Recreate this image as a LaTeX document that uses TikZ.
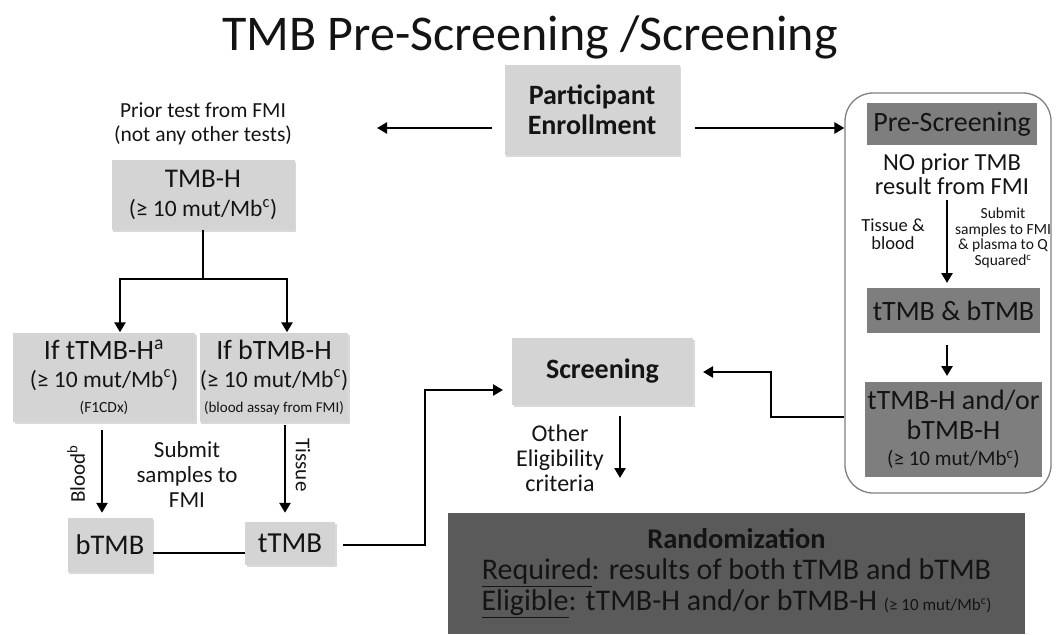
\documentclass[tikz,border=0pt]{standalone}
\usepackage{fontspec}
\setmainfont{Carlito}
\usetikzlibrary{arrows.meta,shadows}
\definecolor{lightbox}{HTML}{D4D4D4}
\definecolor{darkbox}{HTML}{7E7E7E}
\definecolor{randbox}{HTML}{5A5A5A}
\definecolor{txt}{HTML}{141414}
\definecolor{panelline}{HTML}{808080}
\newcommand\myfs[2]{\fontsize{#1}{#2}\selectfont}
\begin{document}
\begin{tikzpicture}[x=1pt,y=-1pt,
  lbox/.style={fill=lightbox, inner sep=0pt, align=center, text=txt,
    drop shadow={opacity=0.3,shadow xshift=1.5pt,shadow yshift=-2pt}},
  dbox/.style={fill=darkbox, inner sep=0pt, align=center, text=txt},
  lbl/.style={inner sep=0pt, align=center, text=txt},
  arr/.style={line width=2.6pt, -{Triangle[length=10pt,width=11pt]}},
  con/.style={line width=2.6pt},
]
\useasboundingbox (0,0) rectangle (1059,634);

% title
\node[lbl, font=\myfs{50}{54}] (title) at (530,37) {TMB Pre-Screening /Screening};

% top
\node[lbox, minimum width=175pt, minimum height=90pt, font=\myfs{28}{30}\bfseries] (enroll) at (592,110) {Participant\\Enrollment};
\node[lbl, font=\myfs{21.5}{24}] (prior) at (203,124) {Prior test from FMI\\(not any other tests)};

% right panel
\node[draw=panelline, line width=1.3pt, rounded corners=28pt, minimum width=206pt, minimum height=400pt, inner sep=0pt] (panel) at (948,293) {};
\node[dbox, minimum width=170pt, minimum height=42pt, font=\myfs{28}{30}] (pres) at (952,124) {Pre-Screening};
\node[lbl, font=\myfs{24.5}{24}] (noprior) at (952,174) {NO prior TMB\\result from FMI};
\node[lbl, font=\myfs{18.5}{18}] (tisblood) at (893,234) {Tissue \&\\blood};
\node[lbl, font=\myfs{15.5}{15.5}] (submitq) at (1003,238) {Submit\\samples to FMI\\\& plasma to Q\\Squared\textsuperscript{c}};
\node[dbox, minimum width=173pt, minimum height=45pt, font=\myfs{28}{30}] (tb) at (953.5,310.5) {tTMB \& bTMB};
\node[dbox, minimum width=177pt, minimum height=95pt, font=\myfs{28}{30}] (tbh) at (953.5,429.5) {tTMB-H and/or\\bTMB-H\\[-4pt]{\myfs{21}{24}(≥ 10 mut/Mb\textsuperscript{c})}};

% left tree
\node[lbox, minimum width=183pt, minimum height=70pt, font=\myfs{27}{29}] (tmbh) at (203,195) {TMB-H\\{\myfs{23.5}{26}(≥ 10 mut/Mb\textsuperscript{c})}};
\node[lbox, minimum width=182pt, minimum height=89pt, font=\myfs{28}{28}] (iftt) at (104,377) {If tTMB-H\textsuperscript{a}\\{\myfs{23.5}{27}(≥ 10 mut/Mb\textsuperscript{c})}\\[-3pt]{\myfs{15.5}{18}(F1CDx)}};
\node[lbox, minimum width=142pt, minimum height=89pt, font=\myfs{28}{28}] (ifbt) at (274,377) {If bTMB-H\\{\myfs{23.5}{27}(≥ 10 mut/Mb\textsuperscript{c})}\\[-3pt]{\myfs{15}{18}(blood assay from FMI)}};
\node[lbox, minimum width=85pt, minimum height=54pt, font=\myfs{28.5}{30}] (btmb) at (110,545) {bTMB};
\node[lbox, minimum width=90pt, minimum height=43pt, font=\myfs{29}{30}] (ttmb) at (290,543.5) {tTMB};
\node[lbl, font=\myfs{23}{25}] (submit) at (187,475) {Submit\\samples to\\FMI};
\node[lbl, font=\myfs{21}{24}, rotate=90] (blood) at (76,474) {Blood\textsuperscript{b}};
\node[lbl, font=\myfs{21}{24}, rotate=-90] (tissue) at (303,465) {Tissue};

% screening
\node[lbox, minimum width=181pt, minimum height=67pt, font=\myfs{28}{30}\bfseries] (screen) at (602.5,371.5) {Screening};
\node[lbl, font=\myfs{24}{25}] (other) at (560,458) {Other\\Eligibility\\criteria};

% randomization
\node[fill=randbox, minimum width=577pt, minimum height=121pt, inner sep=0pt, align=center, text=txt, font=\myfs{30}{31}] (rand) at (736.5,573.5)
  {{\myfs{28.5}{31}\bfseries Randomization}\\\underline{Required}: results of both tTMB and bTMB\\\underline{Eligible}: tTMB-H and/or bTMB-H {\myfs{17}{18}(≥ 10 mut/Mb\textsuperscript{c})}};

% connectors: enrollment
\coordinate (eL) at (492,128);
\coordinate (eLend) at (377,128);
\coordinate (eR) at (695,128);
\draw[arr] (eL) -- (eLend);
\draw[arr] (eR) -- (eR -| panel.west);

% tree
\coordinate (split) at (203,279);
\coordinate (sL) at (120,279);
\coordinate (sR) at (287,279);
\draw[con] (tmbh.south) -- (split);
\draw[con, line cap=rect] (sL) -- (sR);
\draw[arr] (sL) -- (sL |- iftt.north);
\draw[arr] (sR) -- (sR |- ifbt.north);
\coordinate (bS) at (102,430);
\coordinate (tS) at (285,425);
\draw[arr] (bS) -- ([yshift=5pt]bS |- btmb.north);
\draw[arr] (tS) -- ([yshift=9pt]tS |- ttmb.north);
\draw[con] (btmb.east |- 0,553) -- (ttmb.west |- 0,553);

% to screening
\coordinate (tT) at (343,545);
\coordinate (bend1) at (425,545);
\coordinate (bend2) at (425,390);
\draw[arr] (tT) -- (bend1) -- (bend2) -- (503,390);

% screening to randomization
\coordinate (scS) at (620,416);
\coordinate (scE) at (620,478);
\draw[arr] (scS) -- (scE);

% panel to screening
\coordinate (pL) at (panel.west |- 0,417);
\draw[arr] (pL) -- (771,417) -- (771,372) -- (703,372);

% panel inner arrows
\coordinate (p1) at (947,200);
\draw[arr] (p1) -- (947,283);
\coordinate (p2) at (947,345);
\draw[arr] (p2) -- (947,376);
\end{tikzpicture}
\end{document}
